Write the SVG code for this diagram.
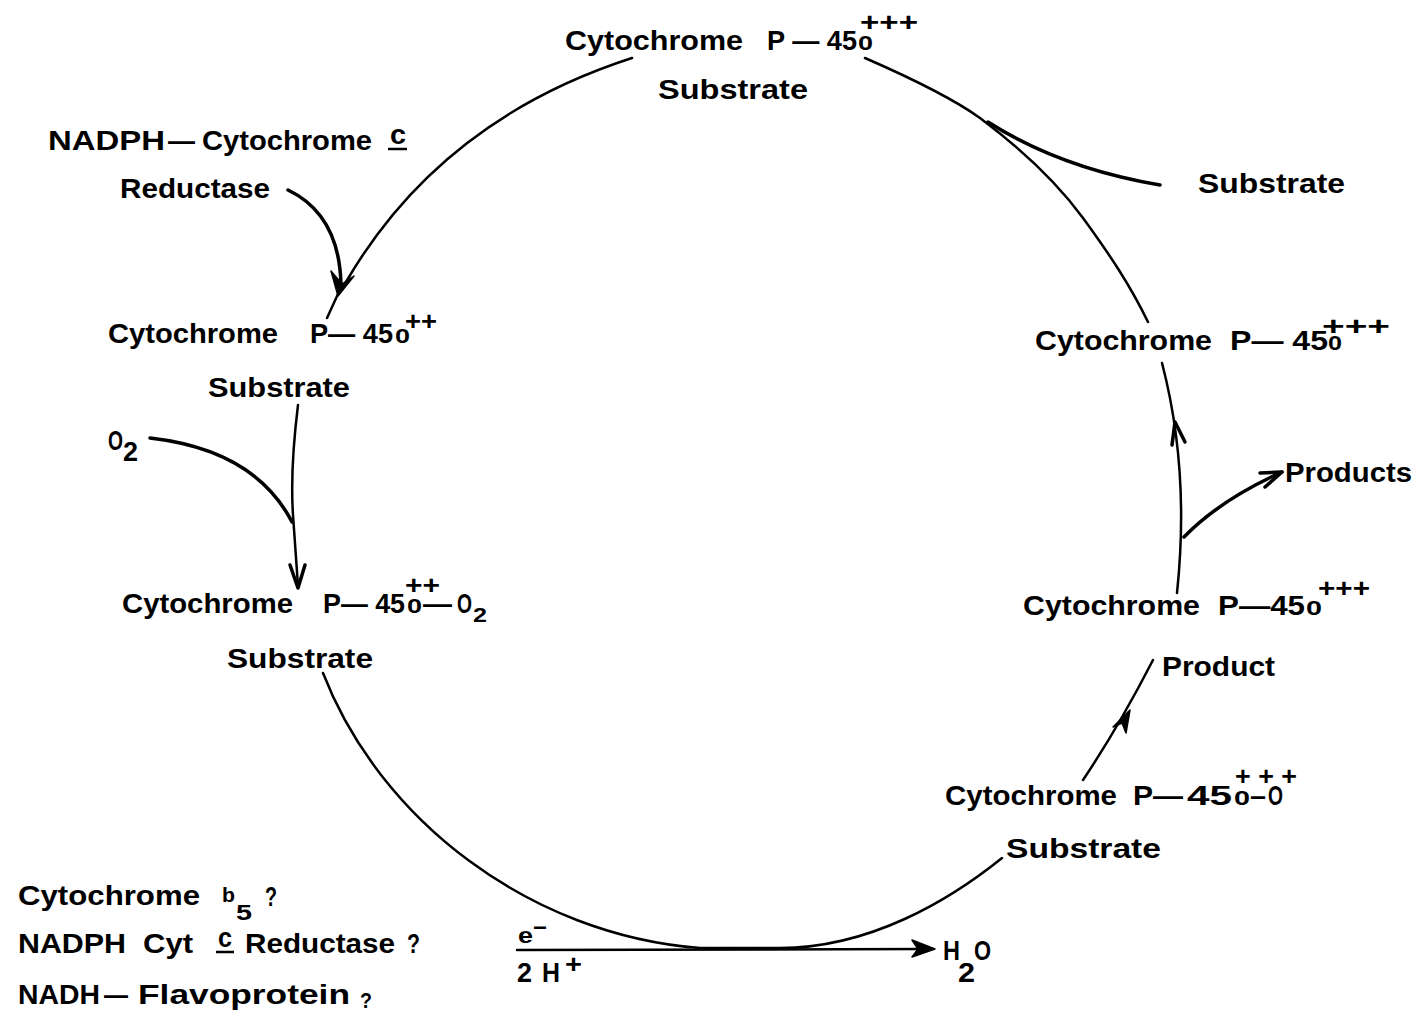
<svg xmlns="http://www.w3.org/2000/svg" width="1421" height="1019" viewBox="0 0 1421 1019">
<style>
text{font-family:"Liberation Sans",Arial,sans-serif;font-weight:bold;fill:#000;font-size:28px}
.o{font-size:20px}
.p{font-size:26px}
.sm{font-size:22px}
.c{fill:none;stroke:#000;stroke-width:2.5;stroke-linecap:round;stroke-linejoin:round}
.th{stroke-width:3.5}
.f{fill:#000;stroke:#000;stroke-width:1.5;stroke-linejoin:round}
.u{stroke:#000;stroke-width:2.5}
</style>
<rect width="1421" height="1019" fill="#fff"/>
<g id="connectors">
<path class="c" d="M632,58 Q440,120 346,282"/>
<path class="c th" d="M288,190 Q340,215 341,286"/>
<path class="f" d="M331,271 L338,296 L354,276 L342,284 Z"/>
<path class="c" d="M338,294 L327,318"/>
<path class="c" d="M298,405 Q290,470 293,515 L298,586"/>
<path class="c th" d="M150,438 Q255,450 292,522"/>
<polyline class="c th" points="290,565 298,588 305,565"/>
<path class="c" d="M323,673 C380,820 530,935 700,948 L780,948 C870,948 950,900 1002,858"/>
<path class="c" d="M517,950 L925,949"/>
<path class="f" d="M935,949 L912,940 L918,949 L912,957 Z"/>
<path class="c" d="M1083,780 Q1118,728 1153,660"/>
<path class="f" d="M1113,727 L1130,710 L1126,733 L1122,723 Z"/>
<path class="c" d="M1177,593 Q1190,470 1162,363"/>
<polyline class="c th" points="1172,445 1175,422 1185,442"/>
<path class="c th" d="M1184,537 Q1220,500 1282,472"/>
<polyline class="c th" points="1260,473 1282,472 1265,487"/>
<path class="c" d="M865,58 C920,82 955,100 980,118 C1020,148 1055,180 1083,218 C1110,255 1130,285 1148,322"/>
<path class="c th" d="M1160,185 Q1060,168 988,122"/>
</g>
<g id="n1">
<text><tspan x="565" y="50" textLength="178" lengthAdjust="spacingAndGlyphs">Cytochrome</tspan><tspan x="767" y="50" textLength="90" lengthAdjust="spacingAndGlyphs">P — 45</tspan><tspan class="o" x="858" y="50" textLength="15" lengthAdjust="spacingAndGlyphs">0</tspan><tspan class="p" x="860" y="31" textLength="58" lengthAdjust="spacingAndGlyphs">+++</tspan></text>
<text x="658" y="99" textLength="150" lengthAdjust="spacingAndGlyphs">Substrate</text>
</g>
<g id="n2">
<text><tspan x="48" y="150" textLength="117" lengthAdjust="spacingAndGlyphs">NADPH</tspan><tspan x="168" y="150" textLength="27" lengthAdjust="spacingAndGlyphs">—</tspan><tspan x="202" y="150" textLength="170" lengthAdjust="spacingAndGlyphs">Cytochrome</tspan><tspan x="390" y="144" textLength="16" lengthAdjust="spacingAndGlyphs">c</tspan></text>
<line class="u" x1="388" y1="149" x2="407" y2="149"/>
<text x="120" y="198" textLength="150" lengthAdjust="spacingAndGlyphs">Reductase</text>
</g>
<g id="n3">
<text><tspan x="108" y="343" textLength="170" lengthAdjust="spacingAndGlyphs">Cytochrome</tspan><tspan x="310" y="343" textLength="83" lengthAdjust="spacingAndGlyphs">P— 45</tspan><tspan class="o" x="395" y="343" textLength="15" lengthAdjust="spacingAndGlyphs">0</tspan><tspan class="p" x="405" y="330" textLength="32" lengthAdjust="spacingAndGlyphs">++</tspan></text>
<text x="208" y="397" textLength="142" lengthAdjust="spacingAndGlyphs">Substrate</text>
</g>
<g id="n4">
<text><tspan x="108" y="450" textLength="15" lengthAdjust="spacingAndGlyphs">O</tspan><tspan x="123" y="461" textLength="15" lengthAdjust="spacingAndGlyphs">2</tspan></text>
</g>
<g id="n5">
<text><tspan x="122" y="613" textLength="171" lengthAdjust="spacingAndGlyphs">Cytochrome</tspan><tspan x="323" y="613" textLength="82" lengthAdjust="spacingAndGlyphs">P— 45</tspan><tspan class="o" x="407" y="613" textLength="15" lengthAdjust="spacingAndGlyphs">0</tspan><tspan x="423" y="613" textLength="29" lengthAdjust="spacingAndGlyphs">—</tspan><tspan x="457" y="613" textLength="15" lengthAdjust="spacingAndGlyphs">O</tspan><tspan class="o" x="473" y="622" textLength="14" lengthAdjust="spacingAndGlyphs">2</tspan><tspan class="p" x="405" y="594" textLength="35" lengthAdjust="spacingAndGlyphs">++</tspan></text>
<text x="227" y="668" textLength="146" lengthAdjust="spacingAndGlyphs">Substrate</text>
</g>
<g id="n6">
<text><tspan x="18" y="905" textLength="182" lengthAdjust="spacingAndGlyphs">Cytochrome</tspan><tspan class="o" x="222" y="902" textLength="13" lengthAdjust="spacingAndGlyphs">b</tspan><tspan class="sm" x="236" y="920" textLength="16" lengthAdjust="spacingAndGlyphs">5</tspan><tspan x="265" y="906" textLength="12" lengthAdjust="spacingAndGlyphs">?</tspan></text>
<text><tspan x="18" y="953" textLength="108" lengthAdjust="spacingAndGlyphs">NADPH</tspan><tspan x="143" y="953" textLength="50" lengthAdjust="spacingAndGlyphs">Cyt</tspan><tspan x="218" y="947" textLength="14" lengthAdjust="spacingAndGlyphs">c</tspan><tspan x="245" y="953" textLength="150" lengthAdjust="spacingAndGlyphs">Reductase</tspan><tspan x="407" y="953" textLength="13" lengthAdjust="spacingAndGlyphs">?</tspan></text>
<line class="u" x1="216" y1="952" x2="234" y2="952"/>
<text><tspan x="18" y="1004" textLength="82" lengthAdjust="spacingAndGlyphs">NADH</tspan><tspan x="104" y="1004" textLength="24" lengthAdjust="spacingAndGlyphs">—</tspan><tspan x="138" y="1004" textLength="212" lengthAdjust="spacingAndGlyphs">Flavoprotein</tspan><tspan class="sm" x="360" y="1008" textLength="12" lengthAdjust="spacingAndGlyphs">?</tspan></text>
</g>
<g id="n7">
<text><tspan class="sm" x="518" y="943" textLength="15" lengthAdjust="spacingAndGlyphs">e</tspan><tspan class="sm" x="533" y="935" textLength="14" lengthAdjust="spacingAndGlyphs">−</tspan></text>
<text><tspan x="517" y="982" textLength="15" lengthAdjust="spacingAndGlyphs">2</tspan><tspan x="542" y="982" textLength="18" lengthAdjust="spacingAndGlyphs">H</tspan><tspan class="p" x="565" y="973" textLength="17" lengthAdjust="spacingAndGlyphs">+</tspan></text>
</g>
<g id="n8">
<text><tspan x="943" y="960" textLength="17" lengthAdjust="spacingAndGlyphs">H</tspan><tspan x="958" y="982" textLength="17" lengthAdjust="spacingAndGlyphs">2</tspan><tspan x="974" y="960" textLength="17" lengthAdjust="spacingAndGlyphs">O</tspan></text>
</g>
<g id="n9">
<text><tspan x="945" y="805" textLength="172" lengthAdjust="spacingAndGlyphs">Cytochrome</tspan><tspan x="1133" y="805" textLength="50" lengthAdjust="spacingAndGlyphs">P—</tspan><tspan x="1187" y="805" textLength="45" lengthAdjust="spacingAndGlyphs">45</tspan><tspan class="o" x="1234" y="805" textLength="16" lengthAdjust="spacingAndGlyphs">0</tspan><tspan x="1250" y="805" textLength="16" lengthAdjust="spacingAndGlyphs">–</tspan><tspan x="1268" y="805" textLength="15" lengthAdjust="spacingAndGlyphs">O</tspan><tspan class="p" x="1235" y="785" textLength="62" lengthAdjust="spacingAndGlyphs">+ + +</tspan></text>
<text x="1006" y="858" textLength="155" lengthAdjust="spacingAndGlyphs">Substrate</text>
</g>
<g id="n10">
<text><tspan x="1023" y="615" textLength="177" lengthAdjust="spacingAndGlyphs">Cytochrome</tspan><tspan x="1218" y="615" textLength="87" lengthAdjust="spacingAndGlyphs">P—45</tspan><tspan class="o" x="1306" y="615" textLength="16" lengthAdjust="spacingAndGlyphs">0</tspan><tspan class="p" x="1318" y="597" textLength="52" lengthAdjust="spacingAndGlyphs">+++</tspan></text>
<text x="1162" y="676" textLength="113" lengthAdjust="spacingAndGlyphs">Product</text>
</g>
<g id="n11">
<text x="1285" y="482" textLength="127" lengthAdjust="spacingAndGlyphs">Products</text>
</g>
<g id="n12">
<text><tspan x="1035" y="350" textLength="177" lengthAdjust="spacingAndGlyphs">Cytochrome</tspan><tspan x="1230" y="350" textLength="98" lengthAdjust="spacingAndGlyphs">P— 45</tspan><tspan class="o" x="1328" y="350" textLength="14" lengthAdjust="spacingAndGlyphs">0</tspan><tspan class="p" x="1322" y="335" textLength="68" lengthAdjust="spacingAndGlyphs">+++</tspan></text>
</g>
<g id="n13">
<text x="1198" y="193" textLength="147" lengthAdjust="spacingAndGlyphs">Substrate</text>
</g>
</svg>
